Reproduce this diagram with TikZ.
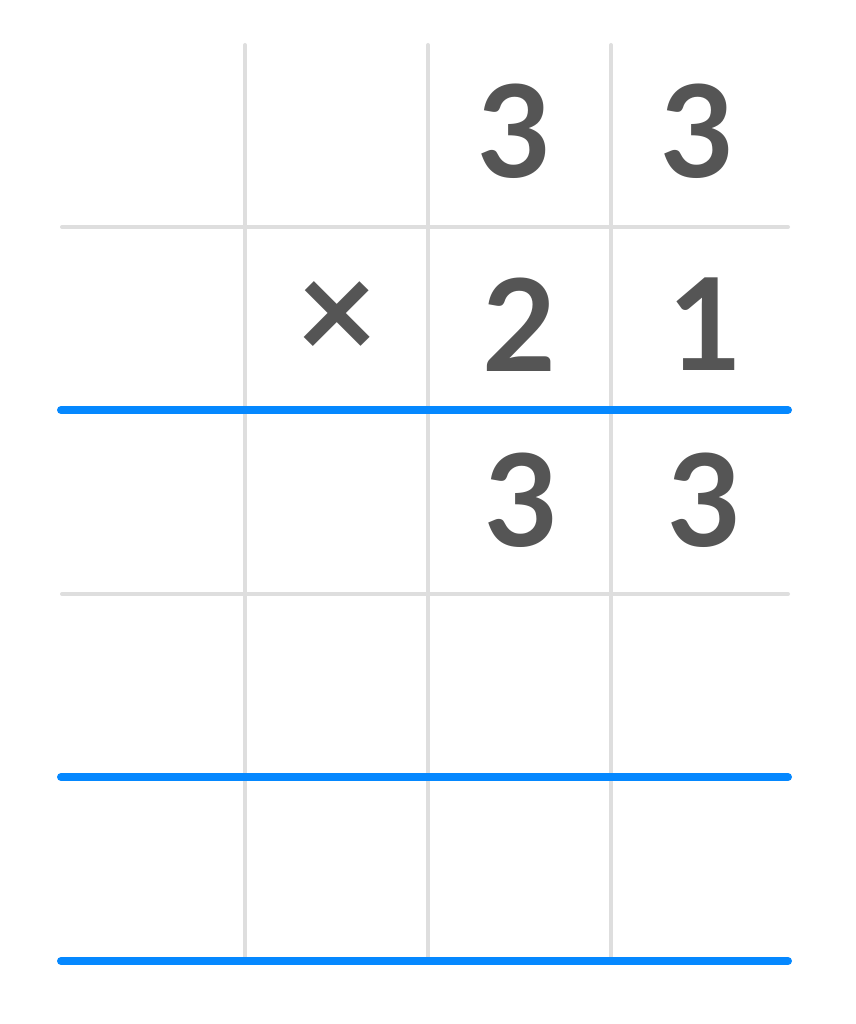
\documentclass[tikz,border=0pt]{standalone}
\usepackage{fontspec}
\setmainfont{Lato}
\definecolor{gridgray}{HTML}{DEDEDE}
\definecolor{rulerblue}{HTML}{0588FF}
\definecolor{digitgray}{HTML}{555555}
\begin{document}
\begin{tikzpicture}[x=1pt,y=1pt,
  gridline/.style={draw=gridgray,line width=4pt,line cap=round},
  blueline/.style={draw=rulerblue,line width=8pt,line cap=round},
  digit/.style={inner sep=0pt,text=digitgray,font=\fontsize{128}{128}\selectfont\bfseries},
  timessign/.style={inner sep=0pt,text=digitgray,font=\fontsize{140}{140}\selectfont\bfseries}]
\useasboundingbox[fill=white] (0,0) rectangle (855,1024);
% coordinates (y = 1024 - pixel row)
\coordinate (v1t) at (245,979); \coordinate (v1b) at (245,64);
\coordinate (v2t) at (428,979); \coordinate (v2b) at (428,64);
\coordinate (v3t) at (611,979); \coordinate (v3b) at (611,64);
\coordinate (h1l) at (62,797); \coordinate (h1r) at (788,797);
\coordinate (h2l) at (62,430); \coordinate (h2r) at (788,430);
\coordinate (b1l) at (61,614); \coordinate (b1r) at (788,614);
\coordinate (b2l) at (61,247); \coordinate (b2r) at (788,247);
\coordinate (b3l) at (61,63); \coordinate (b3r) at (788,63);
\draw[gridline] (v1t) -- (v1b);
\draw[gridline] (v2t) -- (v2b);
\draw[gridline] (v3t) -- (v3b);
\draw[gridline] (h1l) -- (h1r);
\draw[gridline] (h2l) -- (h2r);
\draw[blueline] (b1l) -- (b1r);
\draw[blueline] (b2l) -- (b2r);
\draw[blueline] (b3l) -- (b3r);
% digits
\node[digit] (a1) at (514.5,893) {3};
\node[digit] (a2) at (697.5,893) {3};
\node[timessign] (x) at (337.5,703) {×};
\node[digit] (b1) at (520,699.5) {2};
\node[digit] (b2) at (706,699.5) {1};
\node[digit] (c1) at (522,524) {3};
\node[digit] (c2) at (704.5,524) {3};
\end{tikzpicture}
\end{document}
